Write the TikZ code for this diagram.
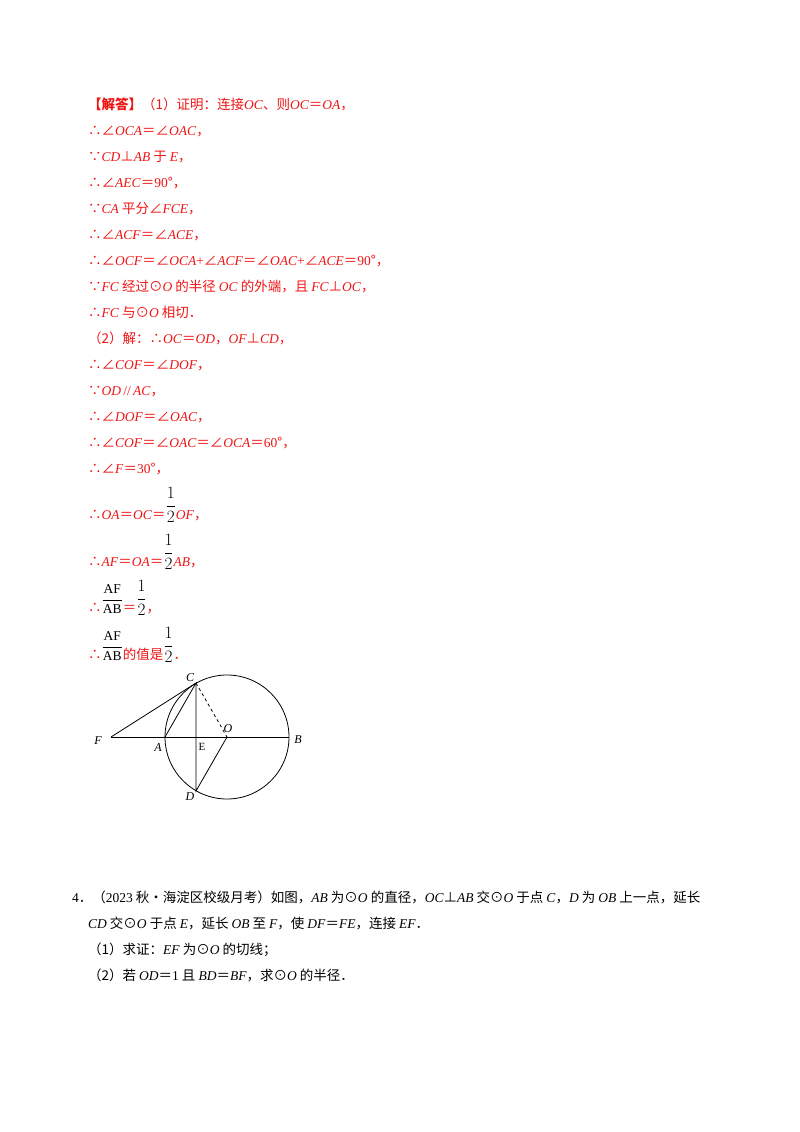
\documentclass[tikz,border=0pt]{standalone}
\usepackage{fontspec}
\setmainfont{Liberation Serif}
\newfontfamily\cjk{Noto Sans CJK SC}
\newcommand\Z[1]{{\cjk #1}}
\newcommand\I[1]{\textit{#1}}
\definecolor{ans}{RGB}{240,20,20}
\begin{document}
\begin{tikzpicture}[x=1pt,y=-1pt,
  ln/.style={anchor=base west,inner sep=0pt,text=ans,font=\fontsize{13.5}{16}\selectfont},
  bk/.style={anchor=base west,inner sep=0pt,text=black,font=\fontsize{13.5}{16}\selectfont},
  lbl/.style={inner sep=1pt,font=\fontsize{12}{14}\selectfont\itshape},
  fig/.style={line width=0.8pt}]
\useasboundingbox (0,0) rectangle (800,1132);
\newcommand\half{\textcolor{black}{\raisebox{0.62em}{\fontsize{16}{18}\selectfont$\displaystyle\frac{1}{2}$}}}
\newcommand\afab{\textcolor{black}{\raisebox{0.62em}{$\displaystyle\frac{\mathrm{AF}}{\mathrm{AB}}$}}}
\node[ln] (l1) at (88,109) {\Z{\textbf{【解答】}（1）证明：连接}\I{OC}\Z{、则}\I{OC}\Z{＝}\I{OA}\Z{，}};
\node[ln] (l2) at (88,135) {\Z{∴∠}\I{OCA}\Z{＝∠}\I{OAC}\Z{，}};
\node[ln] (l3) at (88,161) {\Z{∵}\I{CD}\Z{⊥}\I{AB}\Z{ 于 }\I{E}\Z{，}};
\node[ln] (l4) at (88,187) {\Z{∴∠}\I{AEC}\Z{＝}90\Z{°，}};
\node[ln] (l5) at (88,213) {\Z{∵}\I{CA}\Z{ 平分∠}\I{FCE}\Z{，}};
\node[ln] (l6) at (88,239) {\Z{∴∠}\I{ACF}\Z{＝∠}\I{ACE}\Z{，}};
\node[ln] (l7) at (88,265) {\Z{∴∠}\I{OCF}\Z{＝∠}\I{OCA}+\Z{∠}\I{ACF}\Z{＝∠}\I{OAC}+\Z{∠}\I{ACE}\Z{＝}90\Z{°，}};
\node[ln] (l8) at (88,291) {\Z{∵}\I{FC}\Z{ 经过⊙}\I{O}\Z{ 的半径 }\I{OC}\Z{ 的外端，且 }\I{FC}\Z{⊥}\I{OC}\Z{，}};
\node[ln] (l9) at (88,317) {\Z{∴}\I{FC}\Z{ 与⊙}\I{O}\Z{ 相切．}};
\node[ln] (l10) at (88,343) {\Z{（2）解：∴}\I{OC}\Z{＝}\I{OD}\Z{，}\I{OF}\Z{⊥}\I{CD}\Z{，}};
\node[ln] (l11) at (88,369) {\Z{∴∠}\I{COF}\Z{＝∠}\I{DOF}\Z{，}};
\node[ln] (l12) at (88,395) {\Z{∵}\I{OD}\,//\,\I{AC}\Z{，}};
\node[ln] (l13) at (88,421) {\Z{∴∠}\I{DOF}\Z{＝∠}\I{OAC}\Z{，}};
\node[ln] (l14) at (88,447) {\Z{∴∠}\I{COF}\Z{＝∠}\I{OAC}\Z{＝∠}\I{OCA}\Z{＝}60\Z{°，}};
\node[ln] (l15) at (88,473) {\Z{∴∠}\I{F}\Z{＝}30\Z{°，}};
\node[ln] (l16) at (88,519) {\Z{∴}\I{OA}\Z{＝}\I{OC}\Z{＝}\half\I{OF}\Z{，}};
\node[ln] (l17) at (88,566) {\Z{∴}\I{AF}\Z{＝}\I{OA}\Z{＝}\half\I{AB}\Z{，}};
\node[ln] (l18) at (88,612) {\Z{∴}\afab\Z{＝}\half\Z{，}};
\node[ln] (l19) at (88,659) {\Z{∴}\afab\Z{的值是}\half\Z{．}};
% figure
\coordinate (O) at (227,737);
\coordinate (B) at (289,737);
\coordinate (A) at (165,737);
\coordinate (C) at (196,683);
\coordinate (D) at (196,791);
\coordinate (E) at (196,737);
\coordinate (F) at (111,737);
\draw[fig] (O) circle (62);
\draw[fig] (F) -- (B);
\draw[fig] (F) -- (C) -- (A);
\draw[fig] (C) -- (D) -- (O);
\draw[fig,dashed] (C) -- (O);
\node[lbl,above] (nC) at (190,683) {C};
\node[lbl] (nO) at (228,729) {O};
\node[lbl] (nB) at (298,740) {B};
\node[lbl] (nF) at (98,741) {F};
\node[lbl] (nA) at (158,748) {A};
\node[lbl,font=\fontsize{11}{13}\selectfont] (nE) at (202,747) {E};
\node[lbl] (nD) at (190,797) {D};
% problem 4
\node[bk] (p1) at (72,902) {4\Z{．（}2023\Z{ 秋•海淀区校级月考）如图，}\I{AB}\Z{ 为⊙}\I{O}\Z{ 的直径，}\I{OC}\Z{⊥}\I{AB}\Z{ 交⊙}\I{O}\Z{ 于点 }\I{C}\Z{，}\I{D}\Z{ 为 }\I{OB}\Z{ 上一点，延长}};
\node[bk] (p2) at (88,928) {\I{CD}\Z{ 交⊙}\I{O}\Z{ 于点 }\I{E}\Z{，延长 }\I{OB}\Z{ 至 }\I{F}\Z{，使 }\I{DF}\Z{＝}\I{FE}\Z{，连接 }\I{EF}\Z{．}};
\node[bk] (p3) at (88,954) {\Z{（1）求证：}\I{EF}\Z{ 为⊙}\I{O}\Z{ 的切线；}};
\node[bk] (p4) at (88,980) {\Z{（2）若 }\I{OD}\Z{＝}1\Z{ 且 }\I{BD}\Z{＝}\I{BF}\Z{，求⊙}\I{O}\Z{ 的半径．}};
\end{tikzpicture}
\end{document}
